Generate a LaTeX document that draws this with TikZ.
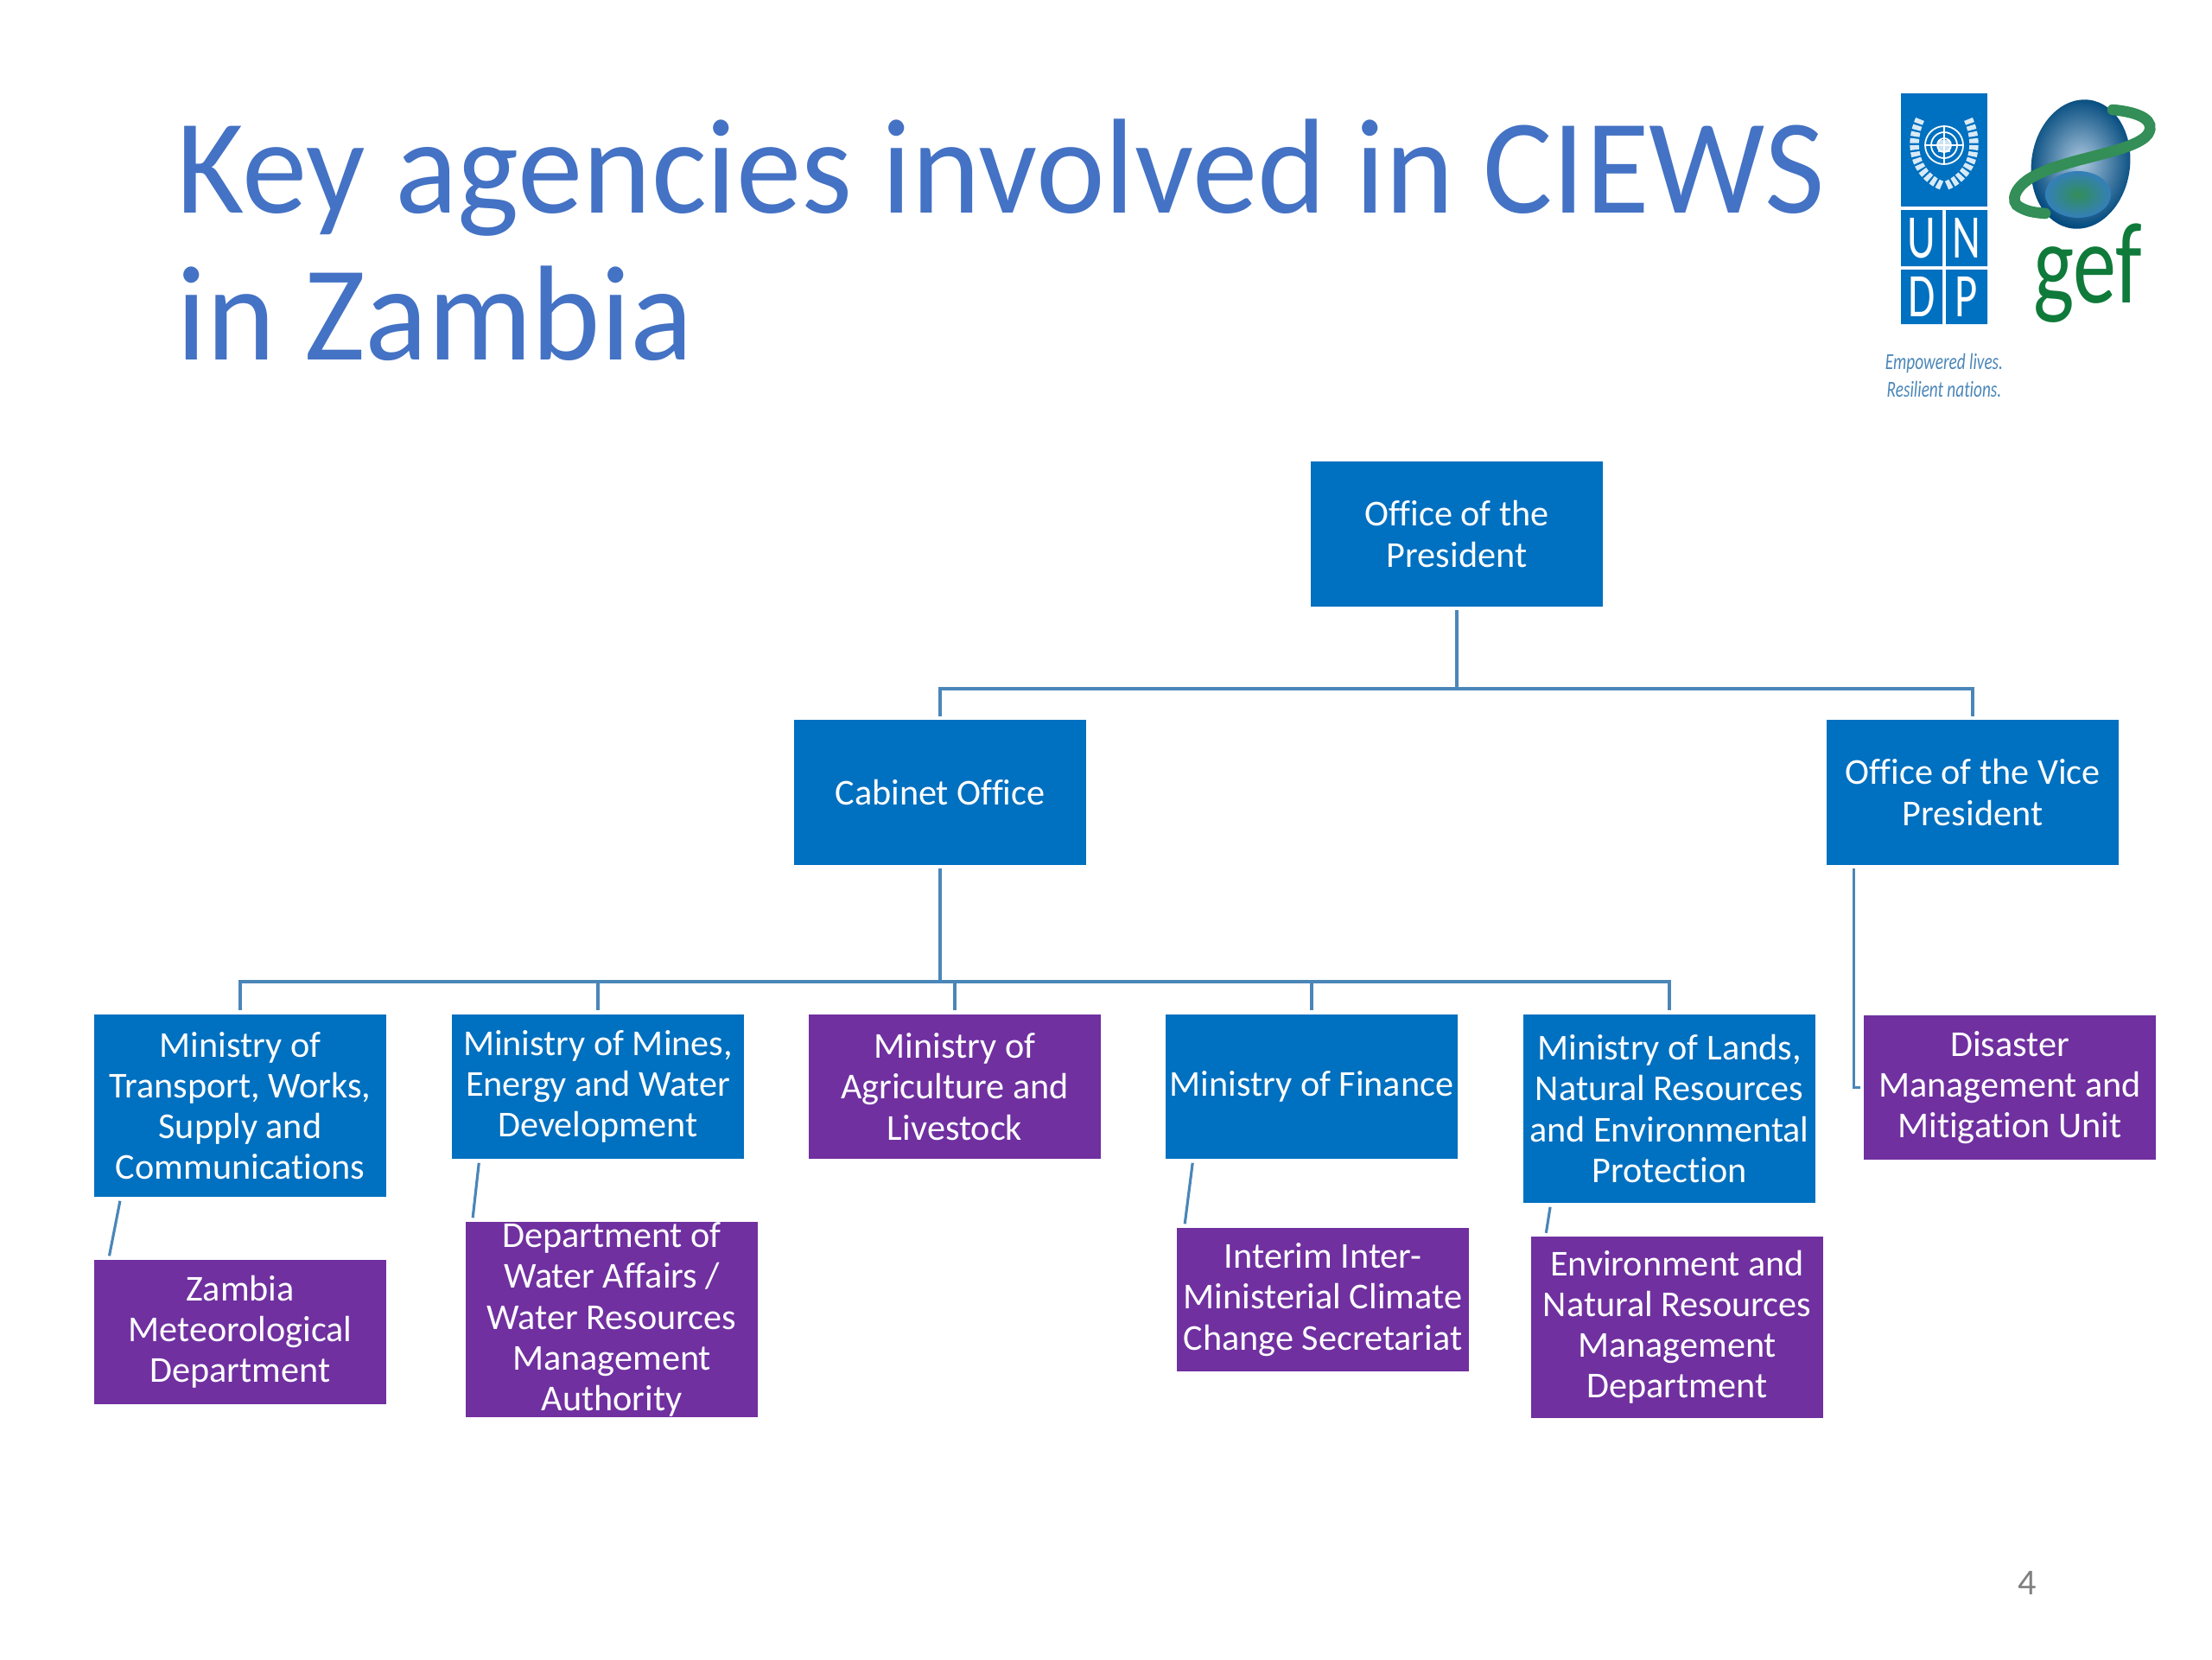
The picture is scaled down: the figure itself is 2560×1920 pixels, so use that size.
\documentclass[tikz,border=0pt]{standalone}
\usepackage{fontspec}
\setmainfont[Ligatures=CommonOff]{Carlito}
\definecolor{boxblue}{HTML}{0070C0}
\definecolor{boxpurple}{HTML}{7030A0}
\definecolor{linkblue}{HTML}{4A86B8}
\definecolor{titleblue}{HTML}{4472C4}
\definecolor{gefgreen}{HTML}{0F7A3A}
\tikzset{
  bluebox/.style={fill=boxblue,text=white,align=center,inner sep=0pt,minimum width=3.37cm,font=\fontsize{12}{13.4}\selectfont},
  purplebox/.style={bluebox,fill=boxpurple},
  link/.style={draw=linkblue,line width=0.9pt,shorten <=.04cm,shorten >=.04cm},
  stem/.style={link,shorten >=0pt},
  titletext/.style={anchor=base west,inner sep=0pt,text=titleblue,xscale=.965,transform shape,font=\fontsize{44.5}{50}\selectfont},
  undpsq/.style={minimum width=.48cm,minimum height=.64cm,inner sep=0pt,text=white,yscale=1.2,xscale=.85,transform shape,font=\fontsize{17}{17}\selectfont},
  tagtext/.style={inner sep=0pt,text=linkblue,xscale=.73,transform shape,font=\fontsize{7.5}{8}\selectfont\itshape},
}
\begin{document}
\begin{tikzpicture}[x=.01cm,y=-.01cm]
\useasboundingbox (0,0) rectangle (2560,1920);
% Title
\node[titletext] (titleone) at (204,246) {Key agencies involved in CIEWS};
\node[titletext] (titletwo) at (204,416) {in Zambia};
% UNDP logo
\fill[boxblue] (2200,108) rectangle (2300,239);
\fill[boxblue] (2200,243) rectangle (2248,308) (2252,243) rectangle (2300,308);
\fill[boxblue] (2200,312) rectangle (2248,375) (2252,312) rectangle (2300,375);
\node[undpsq] (undpu) at (2224,275.5) {U};
\node[undpsq] (undpn) at (2276,275.5) {N};
\node[undpsq] (undpd) at (2224,343.5) {D};
\node[undpsq] (undpp) at (2276,343.5) {P};
\draw[white,line width=.5pt] (2250,168) circle (8) (2250,168) circle (15) (2250,168) circle (22);
\draw[white,line width=.5pt] (2228,168) -- (2272,168) (2250,146) -- (2250,190);
\fill[white,opacity=.8] (2243,162) rectangle (2257,176);
\draw[white!85!boxblue,line width=3pt,dash pattern=on 1.5pt off .7pt] (2222,138) .. controls (2206,175) and (2222,205) .. (2248,215);
\draw[white!85!boxblue,line width=3pt,dash pattern=on 1.5pt off .7pt] (2278,138) .. controls (2294,175) and (2278,205) .. (2252,215);
\node[tagtext] (tagone) at (2250,420) {Empowered lives.};
\node[tagtext] (tagtwo) at (2250,450) {Resilient nations.};
% GEF logo
\shade[inner color=white!55!linkblue,outer color=boxblue!65!black,rotate around={-8:(2408,190)}] (2408,190) ellipse (.57cm and .75cm);
\shade[inner color=gefgreen!85!white,outer color=linkblue!70!boxblue] (2405,225) ellipse (.38cm and .27cm);
\draw[gefgreen!85!white,line width=3.6pt,line cap=round] (2445,127) .. controls (2478,130) and (2495,140) .. (2486,155) .. controls (2472,175) and (2400,182) .. (2362,200) .. controls (2330,213) and (2325,235) .. (2338,240) .. controls (2347,245) and (2355,246) .. (2367,247);
\node[anchor=base,inner sep=0pt,text=gefgreen,xscale=.75,transform shape,font=\fontsize{38}{38}\selectfont] (geftext) at (2416,350) {gef};
% Top level
\node[bluebox,minimum height=1.67cm] (president) at (1686,618) {Office of the\\President};
\node[bluebox,minimum height=1.67cm] (cabinet) at (1088,917) {Cabinet Office};
\node[bluebox,minimum height=1.67cm] (vice) at (2283,917) {Office of the Vice\\President};
% Ministries
\node[bluebox,minimum height=2.11cm] (transport) at (278,1279.5) {Ministry of\\Transport, Works,\\Supply and\\Communications};
\node[bluebox,minimum height=1.67cm] (mines) at (692,1257.5) {Ministry of Mines,\\Energy and Water\\Development};
\node[purplebox,minimum height=1.67cm] (agri) at (1105,1257.5) {Ministry of\\Agriculture and\\Livestock};
\node[bluebox,minimum height=1.67cm] (finance) at (1518,1257.5) {Ministry of Finance};
\node[bluebox,minimum height=2.18cm] (lands) at (1932,1283) {Ministry of Lands,\\Natural Resources\\and Environmental\\Protection};
\node[purplebox,minimum height=1.67cm] (disaster) at (2326,1258.5) {Disaster\\Management and\\Mitigation Unit};
% Departments
\node[purplebox,minimum height=1.67cm] (zambia) at (278,1541.5) {Zambia\\Meteorological\\Department};
\node[purplebox,minimum height=2.26cm] (water) at (708,1527) {Department of\\Water Affairs /\\Water Resources\\Management\\Authority};
\node[purplebox,minimum height=1.66cm] (interim) at (1531,1504) {Interim Inter-\\Ministerial Climate\\Change Secretariat};
\node[purplebox,minimum height=2.09cm] (envir) at (1941,1536) {Environment and\\Natural Resources\\Management\\Department};
\node[text=gray,inner sep=0pt,font=\fontsize{12}{12}\selectfont] (pagenum) at (2346,1832) {4};
% Connectors
\coordinate (topbar) at (1686,797);
\coordinate (midbar) at (1088,1136);
\draw[stem] (president.south) -- (topbar);
\draw[link] (cabinet.north) |- (topbar) -| (vice.north);
\draw[stem] (cabinet.south) -- (midbar);
\foreach \n in {transport,mines,agri,finance,lands}
  \draw[stem] (\n.north) |- (midbar);
\draw[link] ([xshift=.32cm]vice.south west) |- (disaster.west);
\draw[link] ([xshift=.31cm]transport.south west) -- ([xshift=.17cm]zambia.north west);
\draw[link] ([xshift=.32cm]mines.south west) -- ([xshift=.08cm]water.north west);
\draw[link] ([xshift=.32cm]finance.south west) -- ([xshift=.09cm]interim.north west);
\draw[link] ([xshift=.32cm]lands.south west) -- ([xshift=.17cm]envir.north west);
\end{tikzpicture}
\end{document}
